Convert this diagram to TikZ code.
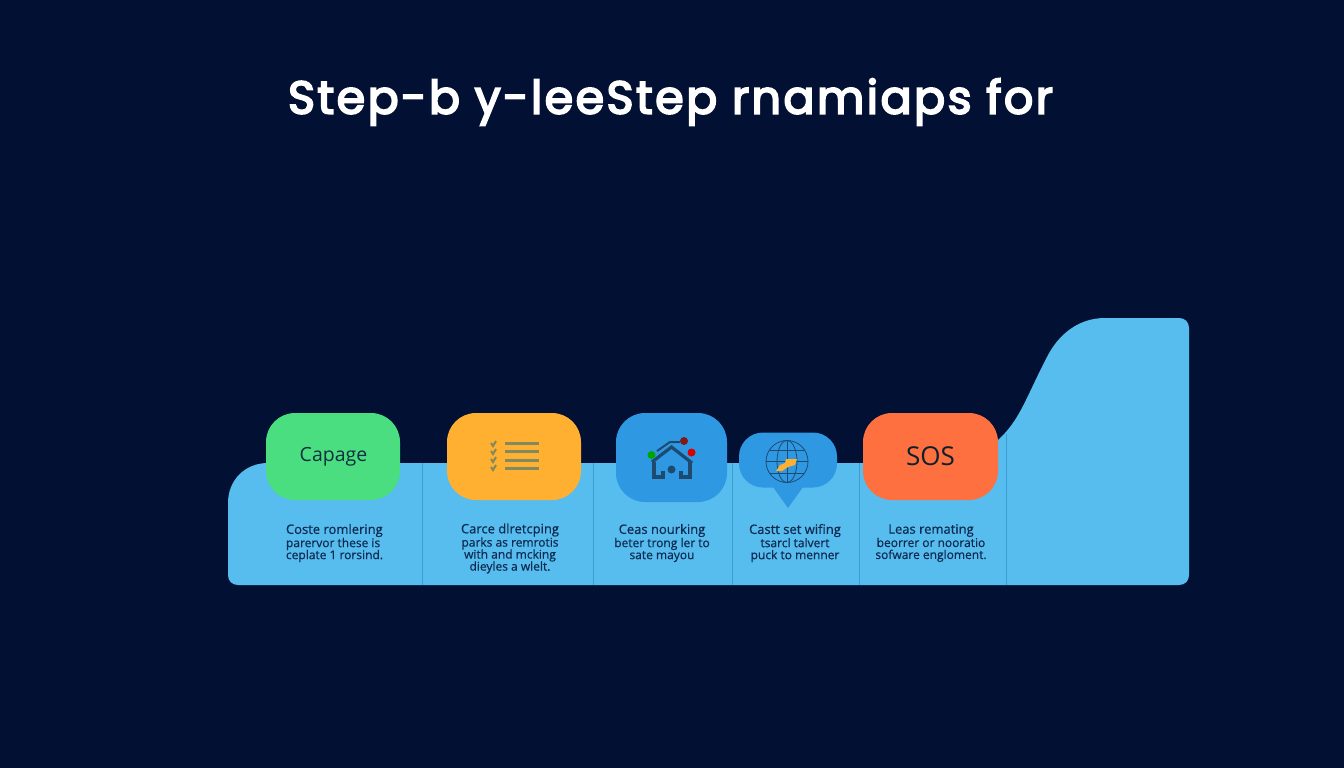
\documentclass[tikz,border=0pt]{standalone}
\usepackage{fontspec}
\setmainfont{Open Sans}
\newfontfamily\titlefont[LetterSpace=5.3,FakeBold=4]{Poppins}
\newfontfamily\capfont[FakeBold=0.5]{Open Sans}
\newcommand{\capfirst}{\fontsize{13}{12.5}\selectfont}
\newcommand{\caprest}{\fontsize{12}{12.5}\selectfont}
\definecolor{pagebg}{HTML}{021033}
\definecolor{bandblue}{HTML}{56BDEE}
\definecolor{dividerblue}{HTML}{3C9DD2}
\definecolor{capgreen}{HTML}{4ADE80}
\definecolor{capamber}{HTML}{FFB030}
\definecolor{capblue}{HTML}{2E98E2}
\definecolor{caporange}{HTML}{FF7040}
\definecolor{captext}{HTML}{0E2A50}
\definecolor{labeltext}{HTML}{0F2F3F}
\definecolor{iconslate}{HTML}{1F4A70}
\definecolor{iconolive}{HTML}{7F8A60}
\begin{document}
\begin{tikzpicture}[x=1pt,y=-1pt]

    \tikzset{
      divider/.style={
        color={dividerblue},
        line width=1pt,
      },
      stepcard/.style={
        rounded corners=29pt,
        inner sep=0pt,
        minimum width=134pt,
        minimum height=87pt,
      },
      caption/.style={
        align=center,
        inner sep=0pt,
        font=\capfont,
        text={captext},
      },
      listrule/.style={
        color={iconolive},
        line width=3pt,
      },
      listcheck/.style={
        color={iconolive},
        line width=2pt,
      },
      houseline/.style={
        color={iconslate},
        line width=3.2pt,
      },
      globeline/.style={
        color={iconslate},
        line width=0.8pt,
      },
    }
    \useasboundingbox (0,0) rectangle (1344,768);
	\fill[color={pagebg}] (0,0) rectangle (1344,768);
	\node (title) at (670.5,102) {\titlefont\fontsize{46}{50}\selectfont\textcolor{white}{Step-b y-leeStep rnamiaps for}};
	\fill[color={bandblue}] (238,585) .. controls (232,585) and (228,581) .. (228,575)--(228,503) .. controls (228,480) and (245,463) .. (268,463)--(985,463)--(998,440) .. controls (1008,431) and (1016,420) .. (1024,404) .. controls (1032,388) and (1040,370) .. (1047,357) .. controls (1058,335) and (1078,318) .. (1105,318)--(1179,318) .. controls (1185,318) and (1189,322) .. (1189,328)--(1189,575) .. controls (1189,581) and (1185,585) .. (1179,585)--cycle;
	\draw[divider] (422,463)--(422,585);
	\draw[divider] (593,463)--(593,585);
	\draw[divider] (732,463)--(732,585);
	\draw[divider] (859,463)--(859,585);
	\draw[divider] (1006,434)--(1006,585);
	\node[stepcard,fill={capgreen}] (capage) at (333,456.5) {\hspace*{1pt}\fontsize{19.5}{20}\selectfont\textcolor{labeltext}{Capage}};
	\node[stepcard,fill={capamber}] (checklist) at (514,456.5) {};
	\node[stepcard,fill={capblue},minimum width=111pt,minimum height=89pt] (network) at (671.5,457.5) {};
	\node[stepcard,fill={capblue},minimum width=98pt,minimum height=55pt,rounded corners=24pt] (bubble) at (788,460) {};
	\node[stepcard,fill={caporange},minimum width=135pt] (sos) at (930.5,456.5) {\fontsize{26}{28}\selectfont\textcolor{labeltext!70!black}{SOS}};
	\coordinate (bubbletip) at (788,508);
	\fill[color={capblue}] (773,487)--(bubbletip)--(803,487)--cycle;
	\draw[listrule] (505,443.5)--(539,443.5);
	\draw[listrule] (505,451.5)--(539,451.5);
	\draw[listrule] (505,460)--(539,460);
	\draw[listrule] (505,468)--(539,468);
	\draw[listcheck] (491,443)--(493,446)--(496,441);
	\draw[listcheck] (491,451)--(493,454)--(496,449);
	\draw[listcheck] (491,459)--(493,462)--(496,457);
	\draw[listcheck] (491,467)--(493,470)--(496,465);
	\draw[houseline] (652,462)--(671.5,447)--(692,463);
	\draw[houseline] (654,462)--(654,477)--(663,477)--(663,471);
	\draw[houseline] (690,462)--(690,477)--(681,477)--(681,471);
	\draw[houseline,line width=2pt] (657,451)--(670,442)--(680,442);
	\fill[color={iconslate}] (671.5,469.5) circle (4);
	\fill[color={red!45!black!90!white}] (684,441) circle (4);
	\fill[color={red!85!black}] (691.5,452.5) circle (4);
	\fill[color={green!65!black}] (651.5,455) circle (4);
	\draw[globeline] (787,461.5) circle (21);
	\draw[globeline] (787,461.5) ellipse (10 and 21);
	\draw[globeline] (766,461.5)--(808,461.5);
	\draw[globeline] (787,440.5)--(787,482.5);
	\draw[globeline] (770,450)--(804,450);
	\draw[globeline] (770,473)--(804,473);
	\fill[color={capamber}] (776,471)--(780,465)--(785,463)--(786,459)--(797,459)--(795,465)--(788,467)--(782,471)--cycle;
	\node[caption,align=left] (stepone) at (334.5,543) {\capfirst Coste romlering\\\caprest parervor these is\\\caprest ceplate 1 rorsind.};
	\node[caption] (steptwo) at (510,548.5) {\capfirst Carce dlretcping\\\caprest parks as remrotis\\\caprest with and mcking\\\caprest dieyles a wlelt.};
	\node[caption] (stepthree) at (662,543) {\capfirst Ceas nourking\\\caprest beter trong ler to\\\caprest sate mayou};
	\node[caption] (stepfour) at (795,543) {\capfirst Castt set wifing\\\caprest tsarcl talvert\\\caprest puck to menner};
	\node[caption] (stepfive) at (931,543) {\capfirst Leas remating\\\caprest beorrer or nooratio\\\caprest sofware engloment.};

\end{tikzpicture}
\end{document}
